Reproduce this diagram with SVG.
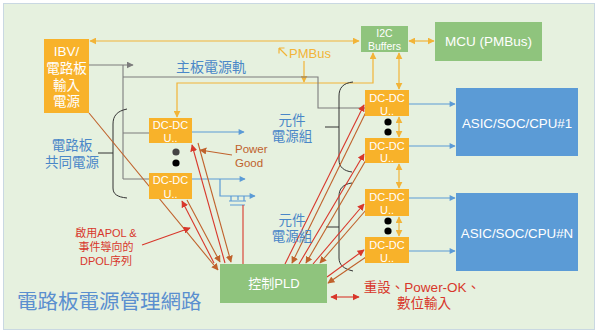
<svg xmlns="http://www.w3.org/2000/svg" width="600" height="334" viewBox="0 0 600 334">
<style>
text{font-family:"Liberation Sans","Noto Sans CJK TC",sans-serif}
.w{fill:#ffffff;text-anchor:middle}
.org{fill:#f8b22a}
.grn{fill:#8fc47d}
.blu{fill:#5b9bd6}
.lbl{fill:#4a87c8;text-anchor:middle;font-size:13.5px}
.ol{stroke:#f2b438;stroke-width:1.2;fill:none}
.gl{stroke:#7d7d7d;stroke-width:1.1;fill:none}
.bl{stroke:#5b9bd6;stroke-width:1.2;fill:none}
.rl{stroke:#d8372b;stroke-width:1.1;fill:none}
.brl{stroke:#c0622c;stroke-width:1.1;fill:none}
.brace{stroke:#333333;stroke-width:1;fill:none}
.dc{font-size:11px}
</style>
<defs>
<marker id="ao" viewBox="0 0 10 10" refX="9" refY="5" markerWidth="7" markerHeight="7" markerUnits="userSpaceOnUse" orient="auto-start-reverse"><path d="M0,0 L10,5 L0,10 z" fill="#f2b438"/></marker>
<marker id="ag" viewBox="0 0 10 10" refX="9" refY="5" markerWidth="7" markerHeight="7" markerUnits="userSpaceOnUse" orient="auto-start-reverse"><path d="M0,0 L10,5 L0,10 z" fill="#7d7d7d"/></marker>
<marker id="ab" viewBox="0 0 10 10" refX="9" refY="5" markerWidth="8" markerHeight="6" markerUnits="userSpaceOnUse" orient="auto-start-reverse"><path d="M0,0 L10,5 L0,10 z" fill="#5b9bd6"/></marker>
<marker id="ar" viewBox="0 0 10 10" refX="9" refY="5" markerWidth="7" markerHeight="7" markerUnits="userSpaceOnUse" orient="auto-start-reverse"><path d="M0,0 L10,5 L0,10 z" fill="#d8372b"/></marker>
<marker id="abr" viewBox="0 0 10 10" refX="9" refY="5" markerWidth="7" markerHeight="7" markerUnits="userSpaceOnUse" orient="auto-start-reverse"><path d="M0,0 L10,5 L0,10 z" fill="#c0622c"/></marker>
</defs>
<rect x="0" y="0" width="600" height="334" fill="#ffffff"/>
<rect x="3.5" y="3.5" width="591" height="326" fill="#e6f1df" stroke="#c9d8e2" stroke-width="1"/>

<g id="connectors">
  <!-- orange PMBus -->
  <path class="ol" d="M90,41 H359" marker-start="url(#ao)" marker-end="url(#ao)"/>
  <path class="ol" d="M409,41 H434" marker-start="url(#ao)" marker-end="url(#ao)"/>
  <path class="ol" d="M177,117 V83 H373 V53" marker-start="url(#ao)" marker-end="url(#ao)"/>
  <path class="ol" d="M304,61 V82" marker-end="url(#ao)"/>
  <path class="ol" d="M287,56 L279,48 M279,48 V53.5 M279,48 H284.5"/>
  <path class="ol" d="M399,53 V89" marker-start="url(#ao)" marker-end="url(#ao)"/>
  <path class="ol" d="M399,117 V137" marker-start="url(#ao)" marker-end="url(#ao)"/>
  <path class="ol" d="M399,164 V188" marker-start="url(#ao)" marker-end="url(#ao)"/>
  <path class="ol" d="M399,217 V236" marker-start="url(#ao)" marker-end="url(#ao)"/>
  <!-- gray main rail -->
  <path class="gl" d="M89,65 H133" marker-end="url(#ag)"/>
  <path class="gl" d="M123,65 V179 M123,133 H149 M123,179 H149"/>
  <path class="gl" d="M123,77 H318 V108 H365"/>
  <!-- braces -->
  <path class="brace" d="M127,109 C117,111 113,116 113,124 V188 C113,194 117,197 127,198 M98,153 H113"/>
  <path class="brace" d="M353,82 C343,83 339,88 339,96 V160 C339,167 344,171 352,172 M325,127 H339"/>
  <path class="brace" d="M352,183 C343,184 339,189 339,196 V258 C339,265 344,269 353,271 M326,227 H339"/>
  <!-- blue outputs -->
  <path class="bl" d="M192,132 H244" marker-end="url(#ab)"/>
  <path class="bl" d="M192,179 H245" marker-end="url(#ab)"/>
  <path class="bl" d="M220,179 V196 H255" marker-end="url(#ab)"/>
  <path class="bl" d="M231,196 V201 M244,196 V201 M229,201 H246 M230,205 H245 M238,196 V200"/>
  <path class="bl" d="M409,104 H455" marker-end="url(#ab)"/>
  <path class="bl" d="M409,146 H455" marker-end="url(#ab)"/>
  <path class="bl" d="M409,198 H455" marker-end="url(#ab)"/>
  <path class="bl" d="M409,251 H455" marker-end="url(#ab)"/>
  <!-- red / brown control lines, left -->
  <path class="brl" d="M89,113 L218,270" marker-end="url(#abr)"/>
  <path class="rl" d="M225,263 L192,145" marker-end="url(#ar)"/>
  <path class="brl" d="M198,143 L231,262" marker-end="url(#abr)"/>
  <path class="rl" d="M214,263 L182,201" marker-end="url(#ar)"/>
  <path class="brl" d="M187,200 L220,262" marker-end="url(#abr)"/>
  <path class="rl" d="M243,205 V264"/>
  <path class="rl" d="M142,245 L190,228" marker-end="url(#ar)"/>
  <path class="brl" d="M232,155 L200,150" marker-end="url(#abr)"/>
  <!-- red / brown control lines, right -->
  <path class="rl" d="M285,264 L364,105" marker-end="url(#ar)"/>
  <path class="brl" d="M366,112 L292,263" marker-end="url(#abr)"/>
  <path class="rl" d="M299,264 L364,154" marker-end="url(#ar)"/>
  <path class="brl" d="M366,160 L306,263" marker-end="url(#abr)"/>
  <path class="rl" d="M313,264 L364,204" marker-end="url(#ar)"/>
  <path class="brl" d="M366,210 L320,263" marker-end="url(#abr)"/>
  <path class="rl" d="M327,277 L364,250" marker-end="url(#ar)"/>
  <path class="brl" d="M366,257 L328,283" marker-end="url(#abr)"/>
  <path class="rl" d="M331,297 H359" marker-start="url(#ar)" marker-end="url(#ar)"/>
</g>

<g id="ibv">
  <rect class="org" x="44" y="39" width="45" height="74"/>
  <text class="w" x="66.5" y="56" font-size="13.5">IBV/</text>
  <text class="w" x="66.5" y="73" font-size="13.5">電路板</text>
  <text class="w" x="66.5" y="90" font-size="13.5">輸入</text>
  <text class="w" x="66.5" y="106" font-size="13.5">電源</text>
</g>
<g id="i2c">
  <rect class="grn" x="361" y="26" width="47" height="26"/>
  <text class="w" x="384.5" y="37" font-size="10.5">I2C</text>
  <text class="w" x="384.5" y="50" font-size="10.5">Buffers</text>
</g>
<g id="mcu">
  <rect class="grn" x="435" y="22" width="107" height="39"/>
  <text class="w" x="488.5" y="46" font-size="13.5">MCU (PMBus)</text>
</g>
<g id="asic1">
  <rect class="blu" x="456" y="88" width="122" height="68"/>
  <text class="w" x="517" y="128" font-size="13.3">ASIC/SOC/CPU#1</text>
</g>
<g id="asicN">
  <rect class="blu" x="456" y="193" width="122" height="78"/>
  <text class="w" x="517" y="238" font-size="13.3">ASIC/SOC/CPU#N</text>
</g>
<g id="pld">
  <rect class="grn" x="220" y="264" width="107" height="39"/>
  <text class="w" x="274" y="288" font-size="13">控制PLD</text>
</g>
<g id="dcL1">
  <rect class="org" x="149" y="118" width="43" height="25"/>
  <text class="w dc" x="170.5" y="128.5">DC-DC</text>
  <text class="w dc" x="170.5" y="142">U..</text>
</g>
<g id="dcL2">
  <rect class="org" x="149" y="173" width="43" height="26"/>
  <text class="w dc" x="170.5" y="184">DC-DC</text>
  <text class="w dc" x="170.5" y="197.5">U..</text>
</g>
<g id="dcR1">
  <rect class="org" x="365" y="90" width="44" height="26"/>
  <text class="w dc" x="387" y="102">DC-DC</text>
  <text class="w dc" x="387" y="114.5">U..</text>
</g>
<g id="dcR2">
  <rect class="org" x="365" y="138" width="44" height="25"/>
  <text class="w dc" x="387" y="150">DC-DC</text>
  <text class="w dc" x="387" y="162">U..</text>
</g>
<g id="dcR3">
  <rect class="org" x="365" y="189" width="44" height="27"/>
  <text class="w dc" x="387" y="201">DC-DC</text>
  <text class="w dc" x="387" y="214">U..</text>
</g>
<g id="dcR4">
  <rect class="org" x="365" y="237" width="44" height="26"/>
  <text class="w dc" x="387" y="249">DC-DC</text>
  <text class="w dc" x="387" y="262">U..</text>
</g>
<g id="dots">
  <circle cx="176" cy="152" r="3.6" fill="#444444"/>
  <circle cx="176" cy="163" r="3.6" fill="#000000"/>
  <circle cx="388" cy="122" r="3.6" fill="#000000"/>
  <circle cx="388" cy="132" r="3.6" fill="#000000"/>
  <circle cx="388" cy="221" r="3.6" fill="#000000"/>
  <circle cx="388" cy="231" r="3.6" fill="#000000"/>
</g>
<g id="labels">
  <text x="304" y="58" font-size="13" fill="#f2b438" text-anchor="middle" dx="6">PMBus</text>
  <text x="211" y="72" font-size="14" fill="#4a87c8" text-anchor="middle">主板電源軌</text>
  <text class="lbl" x="72" y="150">電路板</text>
  <text class="lbl" x="72" y="167">共同電源</text>
  <text class="lbl" x="292" y="125">元件</text>
  <text class="lbl" x="292" y="141">電源組</text>
  <text class="lbl" x="292" y="225">元件</text>
  <text class="lbl" x="292" y="241">電源組</text>
  <text x="235" y="153" font-size="11.5" fill="#c0622c">Power</text>
  <text x="235" y="166.5" font-size="11.5" fill="#c0622c">Good</text>
  <text x="106" y="237" font-size="11" fill="#d8372b" text-anchor="middle">啟用APOL &amp;</text>
  <text x="106" y="251" font-size="11" fill="#d8372b" text-anchor="middle">事件導向的</text>
  <text x="106" y="265" font-size="11" fill="#d8372b" text-anchor="middle">DPOL序列</text>
  <text x="422" y="292" font-size="13.5" fill="#d8372b" text-anchor="middle">重設、Power-OK、</text>
  <text x="424" y="308" font-size="13.5" fill="#d8372b" text-anchor="middle">數位輸入</text>
  <text x="17" y="309" font-size="20.5" fill="#5a8fcf">電路板電源管理網路</text>
</g>
</svg>
